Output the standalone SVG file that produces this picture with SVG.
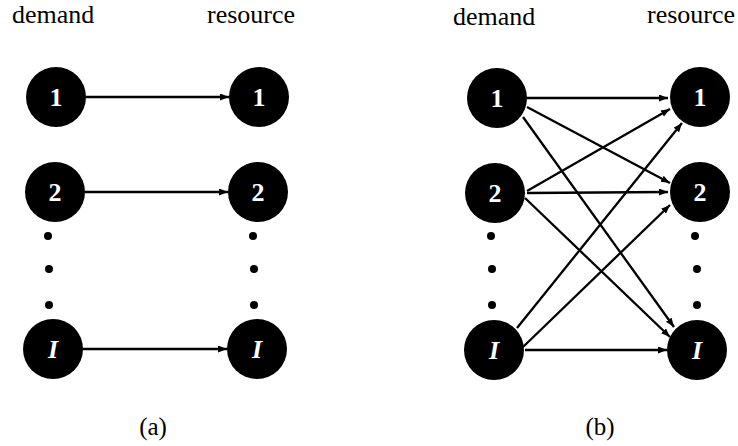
<svg xmlns="http://www.w3.org/2000/svg" width="738" height="446" viewBox="0 0 738 446">
<style>
.hdr{font-family:"Liberation Serif","Times New Roman",serif;font-size:26px;fill:#000}
.cap{font-family:"Liberation Serif","Times New Roman",serif;font-size:25px;fill:#000;text-anchor:middle}
.node circle{fill:#000}
.node text{font-family:"Liberation Serif","Times New Roman",serif;font-size:26px;font-weight:bold;fill:#fff;text-anchor:middle}
.node text.it{font-style:italic}
.dot{fill:#000}
.edge{stroke:#000;stroke-width:2.3;fill:none;marker-end:url(#arr)}
</style>
<defs>
<marker id="arr" markerUnits="userSpaceOnUse" markerWidth="10" markerHeight="8" refX="9" refY="3.5" orient="auto">
<path d="M0,0 L9,3.5 L0,7 z" fill="#000"/>
</marker>
</defs>
<rect width="738" height="446" fill="#fff"/>
<text class="hdr" x="12" y="23">demand</text>
<text class="hdr" x="207" y="23">resource</text>
<text class="hdr" x="453" y="25">demand</text>
<text class="hdr" x="647" y="23">resource</text>
<text class="cap" x="153" y="435">(a)</text>
<text class="cap" x="600" y="435">(b)</text>

<g id="connectors">
<line class="edge" x1="86" y1="97" x2="229" y2="97"/>
<line class="edge" x1="85" y1="192" x2="228" y2="192"/>
<line class="edge" x1="83" y1="349" x2="227" y2="349"/>
<line class="edge" x1="527" y1="98" x2="668" y2="98"/>
<line class="edge" x1="527" y1="107" x2="670" y2="183"/>
<line class="edge" x1="523" y1="117" x2="674" y2="327"/>
<line class="edge" x1="527" y1="191" x2="670" y2="109"/>
<line class="edge" x1="527" y1="193" x2="668" y2="192"/>
<line class="edge" x1="525" y1="198" x2="670" y2="337"/>
<line class="edge" x1="517" y1="328" x2="682" y2="123"/>
<line class="edge" x1="523" y1="347" x2="670" y2="205"/>
<line class="edge" x1="525" y1="350" x2="667" y2="350"/>
</g>

<g id="a-demand-1" class="node"><circle cx="56" cy="97" r="30"/><text x="56" y="106">1</text></g>
<g id="a-demand-2" class="node"><circle cx="55" cy="192" r="30"/><text x="55" y="201">2</text></g>
<g id="a-demand-I" class="node"><circle cx="53" cy="349" r="30"/><text class="it" x="53" y="358">I</text></g>
<g id="a-resource-1" class="node"><circle cx="259" cy="97" r="30"/><text x="259" y="106">1</text></g>
<g id="a-resource-2" class="node"><circle cx="258" cy="192" r="30"/><text x="258" y="201">2</text></g>
<g id="a-resource-I" class="node"><circle cx="257" cy="349" r="30"/><text class="it" x="257" y="358">I</text></g>

<g id="b-demand-1" class="node"><circle cx="497" cy="98" r="30"/><text x="497" y="107">1</text></g>
<g id="b-demand-2" class="node"><circle cx="495" cy="193" r="30"/><text x="495" y="202">2</text></g>
<g id="b-demand-I" class="node"><circle cx="494" cy="350" r="30"/><text class="it" x="494" y="359">I</text></g>
<g id="b-resource-1" class="node"><circle cx="700" cy="97" r="30"/><text x="700" y="106">1</text></g>
<g id="b-resource-2" class="node"><circle cx="700" cy="192" r="30"/><text x="700" y="201">2</text></g>
<g id="b-resource-I" class="node"><circle cx="697" cy="350" r="30"/><text class="it" x="697" y="359">I</text></g>

<g id="ellipses">
<circle class="dot" cx="48" cy="236" r="4"/>
<circle class="dot" cx="49" cy="269" r="4"/>
<circle class="dot" cx="49" cy="305" r="4"/>
<circle class="dot" cx="253" cy="236" r="4"/>
<circle class="dot" cx="254" cy="269" r="4"/>
<circle class="dot" cx="254" cy="305" r="4"/>
<circle class="dot" cx="491" cy="236" r="4"/>
<circle class="dot" cx="492" cy="269" r="4"/>
<circle class="dot" cx="492" cy="305" r="4"/>
<circle class="dot" cx="695" cy="236" r="4"/>
<circle class="dot" cx="697" cy="269" r="4"/>
<circle class="dot" cx="697" cy="305" r="4"/>
</g>
</svg>
